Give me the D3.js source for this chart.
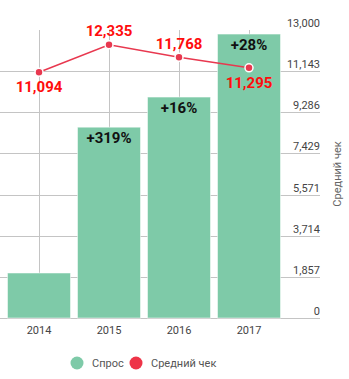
<!DOCTYPE html>
<html><head><meta charset="utf-8">
<script src="https://cdn.jsdelivr.net/npm/d3@7"></script>
<style>
body{margin:0;background:#fff;}
svg{display:block;font-family:Roboto,"Noto Sans",sans-serif;}
</style></head>
<body>
<svg id="c" width="349" height="379"></svg>
<script>
const categories = ["2014", "2015", "2016", "2017"];
const demand = [100, 424, 491, 631];
const demandLabels = ["", "+319%", "+16%", "+28%"];
const avgCheck = [11094, 12335, 11768, 11295];
const rightTicks = [0, 1857, 3714, 5571, 7429, 9286, 11143, 13000];
const seriesNames = ["Спрос", "Средний чек"];
const axisTitle = "Средний чек";

(function () {
const svg = d3.select("#c");
const pTop = 30, pBottom = 318, pLeft = 0, pRight = 320;
const x = d3.scaleBand().domain(categories).range([4, 284]).paddingInner(0.1).paddingOuter(0.05);
const yL = d3.scaleLinear().domain([0, 640]).range([pBottom, pTop]);
const yR = d3.scaleLinear().domain([0, 13000]).range([pBottom, pTop]);
const cx = c => x(c) + x.bandwidth() / 2;

// horizontal grid
svg.append("g").selectAll("line").data(rightTicks.filter(t => t < 13000)).join("line")
  .attr("x1", pLeft).attr("x2", pRight)
  .attr("y1", d => Math.round(yR(d)) + 0.5).attr("y2", d => Math.round(yR(d)) + 0.5)
  .attr("stroke", "#c4c4c4").attr("stroke-width", 1);

// vertical grid at categories
svg.append("g").selectAll("line").data(categories).join("line")
  .attr("x1", d => Math.round(cx(d)) + 0.5).attr("x2", d => Math.round(cx(d)) + 0.5)
  .attr("y1", pTop).attr("y2", pBottom)
  .attr("stroke", "#c4c4c4").attr("stroke-width", 1);

// right axis labels
svg.append("g").selectAll("text").data(rightTicks).join("text")
  .attr("x", pRight).attr("y", d => yR(d) - 3)
  .attr("text-anchor", "end").attr("font-size", 11).attr("fill", "#444")
  .text(d => d3.format(",")(d));

// right axis title
svg.append("text")
  .attr("transform", `translate(341,${(pTop + pBottom) / 2}) rotate(-90)`)
  .attr("text-anchor", "middle").attr("font-size", 11).attr("fill", "#666")
  .text(axisTitle);

// bars
svg.append("g").selectAll("rect").data(categories).join("rect")
  .attr("x", d => x(d)).attr("width", x.bandwidth())
  .attr("y", (d, i) => yL(demand[i])).attr("height", (d, i) => pBottom - yL(demand[i]))
  .attr("fill", "#7ecaa8").attr("stroke", "#ffffff").attr("stroke-opacity", 0.5).attr("stroke-width", 1);

// bar labels
svg.append("g").selectAll("text").data(categories).join("text")
  .attr("x", d => cx(d)).attr("y", (d, i) => yL(demand[i]) + 16)
  .attr("text-anchor", "middle").attr("font-size", 15).attr("font-weight", "bold").attr("fill", "#111")
  .text((d, i) => demandLabels[i]);

// x labels
svg.append("g").selectAll("text").data(categories).join("text")
  .attr("x", d => cx(d)).attr("y", 334)
  .attr("text-anchor", "middle").attr("font-size", 11).attr("fill", "#444")
  .text(d => d);

// line
const line = d3.line().x((d, i) => cx(categories[i])).y(d => yR(d));
svg.append("path").datum(avgCheck).attr("d", line)
  .attr("fill", "none").attr("stroke", "#e8384f").attr("stroke-width", 1.5);
svg.append("g").selectAll("circle").data(avgCheck).join("circle")
  .attr("cx", (d, i) => cx(categories[i])).attr("cy", d => yR(d)).attr("r", 4)
  .attr("fill", "#e8384f").attr("stroke", "#fff").attr("stroke-width", 1.5);

// line labels
const side = ["below", "above", "above", "below"];
svg.append("g").selectAll("text").data(avgCheck).join("text")
  .attr("x", (d, i) => cx(categories[i]))
  .attr("y", (d, i) => yR(d) + (side[i] === "above" ? -8.5 : 20))
  .attr("text-anchor", "middle").attr("font-size", 15).attr("font-weight", "bold").attr("fill", "#ff0d0d")
  .text(d => d3.format(",")(d));

// legend
const legColors = ["#7ecaa8", "#ee3448"];
const legX = [77, 136];
const lg = svg.append("g");
lg.selectAll("circle").data(seriesNames).join("circle")
  .attr("cx", (d, i) => legX[i]).attr("cy", 363).attr("r", 6.5).attr("fill", (d, i) => legColors[i]);
lg.selectAll("text").data(seriesNames).join("text")
  .attr("x", (d, i) => legX[i] + 15).attr("y", 367)
  .attr("font-size", 11).attr("fill", "#555")
  .text(d => d);
})();
</script>
</body></html>
